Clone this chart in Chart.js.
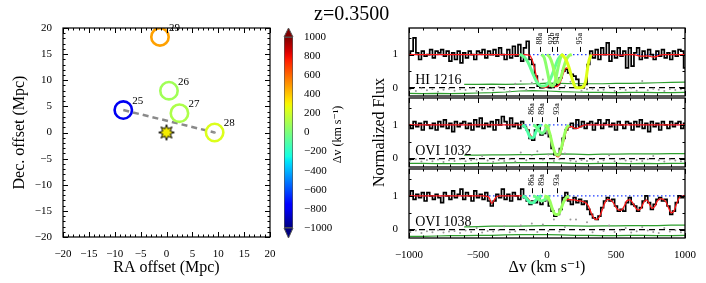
<!DOCTYPE html>
<html>
<head>
<meta charset="utf-8">
<script src="https://cdn.jsdelivr.net/npm/chart.js@4.4.1/dist/chart.umd.min.js"></script>
<style>
  html, body { margin: 0; padding: 0; background: #fff; }
  #wrap { position: relative; width: 706px; height: 283px; overflow: hidden; }
  #wrap canvas { position: absolute; left: 0; top: 0; }
  #ztitle { position: absolute; left: 314px; top: 3px; font: 20px "Liberation Serif", serif; line-height: 20px; color: #000; }
</style>
</head>
<body>
<div id="wrap">
  <canvas id="sky" width="706" height="283"></canvas>
  <canvas id="cbar" width="706" height="283"></canvas>
  <canvas id="spec1" width="706" height="283"></canvas>
  <canvas id="spec2" width="706" height="283"></canvas>
  <canvas id="spec3" width="706" height="283"></canvas>
  <div id="ztitle">z=0.3500</div>
</div>
<script>
// ---- galaxy map (Mpc offsets from the sightline) ----
const galIds = ['25', '26', '27', '28', '29'];
const galX = [-8.35, 0.48, 2.5, 9.3, -1.26];
const galY = [4.3, 8.0, 3.7, 0.0, 18.3];
const galDv = [-800, 90, 120, 234, 480];
const qsoX = 0, qsoY = 0;

// ---- colour bar ----
const cbarMin = -1000, cbarMax = 1000, cbarStep = 200;

// ---- spectra: velocity grid (km/s) ----
const vel = [
  -1000,-980,-960,-940,-920,-900,-880,-860,-840,-820,
  -800,-780,-760,-740,-720,-700,-680,-660,-640,-620,
  -600,-580,-560,-540,-520,-500,-480,-460,-440,-420,
  -400,-380,-360,-340,-320,-300,-280,-260,-240,-220,
  -200,-180,-160,-140,-120,-100,-80,-60,-40,-20,
  0,20,40,60,80,100,120,140,160,180,
  200,220,240,260,280,300,320,340,360,380,
  400,420,440,460,480,500,520,540,560,580,
  600,620,640,660,680,700,720,740,760,780,
  800,820,840,860,880,900,920,940,960,980,
  1000];
const residV = [
  -990,-950,-910,-870,-830,-790,-750,-710,-670,-630,
  -590,-550,-510,-470,-430,-390,-350,-310,-270,-230,
  -190,-150,-110,-70,-30,10,50,90,130,170,
  210,250,290,330,370,410,450,490,530,570,
  610,650,690,730,770,810,850,890,930,970];
const errHiV = [-600,-500,-400,-300,-200,-100,0,100,200,300,400,500,600,700,800,900,1000];
const errLoV = [-1000,-900,-800,-700,-600,-500,-400,-300,-200,-100,0,100,200,300,400,500,600,700,800,900,1000];
const specYTicks = [0, 1];

// HI 1216
const hiFlux = [
  1.0,1.1,1.5,1.05,0.85,1.1,0.95,1.0,1.15,0.9,
  1.1,1.05,1.15,0.95,1.1,0.8,1.05,0.85,1.1,0.75,
  1.05,0.9,1.1,1.0,0.85,1.1,1.05,1.15,0.9,1.1,
  1.0,1.15,0.95,1.2,1.0,0.85,1.15,0.9,1.25,0.95,
  1.3,0.8,1.2,1.4,0.85,0.7,0.35,0.05,0.0,0.05,
  0.02,0.0,0.05,0.05,0.1,0.3,0.5,0.55,0.45,0.4,
  0.35,0.25,0.05,0.0,0.1,0.7,1.1,0.9,1.15,0.85,
  1.2,1.0,1.35,0.8,1.1,0.9,1.2,0.95,1.1,0.6,
  1.2,0.65,1.05,1.2,0.85,1.1,0.9,1.15,1.0,0.85,
  1.1,0.95,1.15,0.9,1.05,0.85,1.1,0.95,1.15,1.1,
  0.6];
const hiModel = [
  1,1,1,1,1,1,1,1,1,1,
  1,1,1,1,1,1,1,1,1,1,
  1,1,1,1,1,1,1,1,1,1,
  1,1,1,1,1,1,1,1,1,1,
  1,1,1,0.99,0.95,0.75,0.4,0.12,0.02,0.0,
  0.02,0.1,0.06,0.03,0.06,0.2,0.45,0.6,0.55,0.3,
  0.05,0.0,0.0,0.0,0.15,0.7,0.97,1,1,1,
  1,1,1,1,1,0.99,0.98,0.98,0.99,1,
  1,1,0.99,0.97,0.95,0.95,0.96,0.95,0.93,0.93,
  0.95,0.98,1,1,1,1,1,1,1,1,
  1];
const hiResid = [
  -0.05,-0.1,-0.02,-0.08,-0.04,-0.12,-0.06,-0.03,-0.09,-0.05,
  -0.07,-0.02,-0.1,-0.06,-0.04,-0.08,0.02,-0.05,-0.11,0.12,
  0.2,-0.06,0.15,0.05,0.25,0.08,0.1,-0.04,0.05,0.18,
  -0.02,-0.09,-0.05,-0.03,-0.08,-0.06,0.05,-0.1,-0.04,-0.07,
  -0.02,-0.09,0.2,-0.08,-0.03,-0.06,-0.1,-0.04,-0.07,-0.05];
const hiErrHi = [0.1,0.1,0.11,0.1,0.11,0.12,0.14,0.13,0.12,0.12,0.12,0.13,0.13,0.14,0.15,0.16,0.17];
const hiErrLo = [-0.17,-0.18,-0.17,-0.18,-0.17,-0.16,-0.15,-0.13,-0.1,-0.09,-0.1,-0.12,-0.13,-0.14,-0.14,-0.15,-0.14,-0.14,-0.15,-0.15,-0.14];
const hiCompNames = ['88a', '92b', '94a', '95a'];
const hiCompDv = [-51, 36, 72, 239];
const hi88aV = [-200,-180,-160,-140,-120,-100,-80,-60,-40,-20,0,20,40,60,80,100,120];
const hi88aF = [1.0,0.97,0.9,0.78,0.6,0.4,0.22,0.1,0.05,0.05,0.1,0.22,0.42,0.65,0.85,0.96,1.0];
const hi92bV = [-40,-20,0,20,40,60,80,100,120];
const hi92bF = [1.0,0.9,0.55,0.15,0.05,0.2,0.6,0.92,1.0];
const hi94aV = [0,20,40,60,80,100,120,140,160,180];
const hi94aF = [1.0,0.92,0.7,0.35,0.15,0.3,0.6,0.85,0.97,1.0];
const hi95aV = [100,120,140,160,180,200,220,240,260,280,300,320];
const hi95aF = [1.0,0.95,0.82,0.6,0.3,0.06,0.0,0.0,0.02,0.2,0.75,1.0];

// OVI 1032
const o32Flux = [
  1.0,0.9,1.1,0.95,1.05,0.85,1.1,1.0,0.9,1.05,
  0.85,1.1,0.95,1.15,0.9,1.05,0.8,1.1,0.95,1.05,
  1.1,0.9,1.05,0.85,1.15,0.95,1.2,0.9,1.05,0.95,
  1.1,0.85,1.15,1.0,1.25,1.1,0.9,1.2,0.95,1.05,
  0.9,1.1,0.95,0.85,0.6,0.55,0.85,1.0,0.7,0.75,
  0.95,0.65,0.3,0.12,0.1,0.3,0.6,0.85,0.95,1.05,
  0.9,1.15,0.95,1.1,0.9,1.05,1.1,0.85,1.05,1.15,
  0.9,1.05,1.15,0.95,1.05,0.85,1.1,1.0,0.9,1.1,
  1.05,0.85,1.1,0.95,1.15,0.9,1.05,0.8,1.1,0.95,
  1.05,0.85,1.1,1.0,0.9,1.1,0.95,1.05,1.1,0.9,
  1.05];
const o32Model = [
  1,1,1,1,1,1,1,1,1,1,
  1,1,1,1,1,1,1,1,1,1,
  1,1,1,1,1,1,1,1,1,1,
  1,1,1,1,1,1,1,1,1,1,
  1,1,0.97,0.88,0.7,0.62,0.78,0.86,0.75,0.78,
  0.86,0.7,0.38,0.12,0.05,0.18,0.5,0.82,0.94,0.95,
  0.9,0.9,0.94,0.98,1,1,1,1,1,1,
  1,1,1,1,1,1,1,1,1,1,
  1,1,1,1,1,1,1,1,1,1,
  1,1,1,1,1,1,1,1,1,1,
  1];
const o32Resid = [
  -0.06,-0.02,-0.09,-0.04,-0.08,-0.03,-0.1,-0.05,-0.07,-0.02,
  -0.08,-0.05,-0.03,0.08,-0.06,-0.1,-0.04,-0.07,-0.02,-0.09,
  0.18,-0.05,0.1,0.22,-0.03,0.12,-0.07,-0.02,0.15,-0.06,
  -0.09,-0.04,-0.07,-0.03,-0.1,-0.05,0.1,-0.08,-0.02,-0.06,
  -0.09,-0.04,-0.07,-0.02,0.08,-0.05,-0.09,-0.03,-0.06,-0.08];
const o32ErrHi = [0.1,0.1,0.11,0.11,0.12,0.12,0.13,0.14,0.13,0.12,0.13,0.13,0.14,0.14,0.14,0.15,0.15];
const o32ErrLo = [-0.14,-0.14,-0.15,-0.15,-0.15,-0.14,-0.14,-0.13,-0.12,-0.12,-0.12,-0.13,-0.14,-0.15,-0.14,-0.14,-0.15,-0.14,-0.15,-0.14,-0.14];

// OVI 1038
const o38Flux = [
  1.0,1.15,0.9,1.05,0.95,1.1,0.85,1.1,1.0,0.9,
  1.05,0.95,0.8,1.1,1.0,0.9,1.15,0.95,1.05,1.2,
  0.9,1.1,1.0,0.85,1.15,0.95,1.05,0.9,1.1,0.85,
  0.7,0.85,1.05,0.95,1.2,0.9,1.05,0.85,1.1,1.0,
  0.9,1.2,0.95,0.85,0.75,0.85,0.8,0.9,0.75,0.85,
  0.95,0.7,0.55,0.4,0.45,0.6,0.95,1.1,0.85,0.75,
  0.95,0.8,0.9,0.75,0.85,0.6,0.45,0.35,0.3,0.4,
  0.65,0.85,0.95,0.85,0.9,0.7,0.55,0.6,0.55,0.8,
  0.95,0.75,0.7,0.55,0.65,0.85,1.0,0.8,0.6,0.75,
  0.9,0.95,0.85,0.9,0.7,0.45,0.55,0.8,1.0,0.95,
  1.0];
const o38Model = [
  1,1,1,1,1,1,1,1,1,1,
  1,1,1,1,1,1,1,1,1,1,
  1,1,1,1,1,1,1,1,0.99,0.95,
  0.78,0.9,0.99,1,1,1,1,1,1,1,
  1,1,0.99,0.93,0.84,0.82,0.88,0.9,0.84,0.87,
  0.92,0.84,0.62,0.46,0.46,0.62,0.82,0.88,0.9,0.88,
  0.88,0.86,0.85,0.83,0.8,0.7,0.5,0.34,0.3,0.38,
  0.58,0.8,0.9,0.88,0.8,0.66,0.58,0.58,0.7,0.86,
  0.88,0.8,0.66,0.58,0.62,0.8,0.88,0.78,0.63,0.68,
  0.85,0.92,0.9,0.84,0.66,0.5,0.55,0.78,0.95,0.99,
  1];
const o38Resid = [
  -0.07,-0.03,-0.1,-0.05,-0.08,-0.02,-0.09,-0.06,-0.04,-0.1,
  -0.03,-0.07,0.05,-0.09,-0.04,-0.06,-0.02,0.1,-0.08,-0.05,
  0.12,-0.03,0.18,-0.07,0.15,-0.04,0.3,-0.06,0.08,0.3,
  0.3,-0.02,0.22,-0.08,0.3,-0.04,0.12,-0.07,-0.03,0.05,
  -0.09,-0.05,0.08,-0.03,-0.07,-0.1,0.05,-0.06,-0.02,-0.08];
const o38ErrHi = [0.08,0.09,0.1,0.1,0.1,0.11,0.12,0.12,0.11,0.1,0.11,0.11,0.12,0.12,0.12,0.13,0.13];
const o38ErrLo = [-0.2,-0.2,-0.19,-0.18,-0.18,-0.17,-0.17,-0.16,-0.15,-0.15,-0.15,-0.16,-0.17,-0.17,-0.18,-0.18,-0.17,-0.17,-0.18,-0.18,-0.17];

// OVI components (same for both lines of the doublet)
const oviCompNames = ['86a', '89a', '93a'];
const oviCompDv = [-109, -36, 72];
const ovi86aV = [-180,-160,-140,-120,-100,-80,-60,-40];
const ovi89aV = [-100,-80,-60,-40,-20,0,20];
const ovi93aV = [-20,0,20,40,60,80,100,120,140,160];
const o32c86aF = [1.0,0.95,0.8,0.62,0.62,0.8,0.95,1.0];
const o32c89aF = [1.0,0.95,0.85,0.75,0.8,0.93,1.0];
const o32c93aF = [1.0,0.95,0.75,0.4,0.15,0.1,0.25,0.6,0.9,1.0];
const o38c86aF = [1.0,0.97,0.88,0.8,0.8,0.88,0.97,1.0];
const o38c89aF = [1.0,0.97,0.9,0.85,0.88,0.95,1.0];
const o38c93aF = [1.0,0.97,0.85,0.6,0.45,0.45,0.6,0.82,0.95,1.0];

const SERIF = "'Liberation Serif', 'DejaVu Serif', serif";
Chart.defaults.font.family = SERIF;
Chart.defaults.color = '#000';
Chart.defaults.animation = false;
Chart.defaults.responsive = false;
Chart.defaults.events = [];
Chart.defaults.plugins.legend.display = false;
Chart.defaults.plugins.tooltip.enabled = false;

const minus = v => String(v).replace('-', '\u2212');

function interp(t, xs, ys) {
  for (let i = 1; i < xs.length; i++) {
    if (t <= xs[i]) return ys[i - 1] + (ys[i] - ys[i - 1]) * (t - xs[i - 1]) / (xs[i] - xs[i - 1]);
  }
  return ys[ys.length - 1];
}
// matplotlib-style jet colour map
function jet(t) {
  t = Math.min(1, Math.max(0, t));
  const r = interp(t, [0, 0.35, 0.66, 0.89, 1], [0, 0, 1, 1, 0.5]);
  const g = interp(t, [0, 0.125, 0.375, 0.64, 0.91, 1], [0, 0, 1, 1, 0, 0]);
  const b = interp(t, [0, 0.11, 0.34, 0.65, 1], [0.5, 1, 1, 0, 0]);
  return 'rgb(' + Math.round(r * 255) + ',' + Math.round(g * 255) + ',' + Math.round(b * 255) + ')';
}
const dvColor = dv => jet((dv - cbarMin) / (cbarMax - cbarMin));

function makeStar() {
  const c = document.createElement('canvas');
  c.width = 18; c.height = 18;
  const g = c.getContext('2d');
  g.beginPath();
  for (let i = 0; i < 16; i++) {
    const r = i % 2 ? 4 : 7.8;
    const a = i * Math.PI / 8 - Math.PI / 2;
    const px = 9 + r * Math.cos(a), py = 9 + r * Math.sin(a);
    if (i) g.lineTo(px, py); else g.moveTo(px, py);
  }
  g.closePath();
  g.fillStyle = '#f4ec00';
  g.fill();
  g.strokeStyle = '#000';
  g.lineWidth = 1;
  g.stroke();
  return c;
}

// ---------- left: galaxy map ----------
const skyDecor = {
  id: 'skyDecor',
  afterDatasetsDraw(chart) {
    const {ctx, chartArea: a, scales: {x, y}} = chart;
    ctx.save();
    ctx.strokeStyle = '#000';
    ctx.lineWidth = 1;
    ctx.beginPath();
    for (let v = x.min; v <= x.max; v++) {
      const len = v % 5 === 0 ? 5 : 2.5;
      const px = Math.round(x.getPixelForValue(v)) + 0.5;
      ctx.moveTo(px, a.bottom); ctx.lineTo(px, a.bottom - len);
      ctx.moveTo(px, a.top); ctx.lineTo(px, a.top + len);
    }
    for (let v = y.min; v <= y.max; v++) {
      const len = v % 5 === 0 ? 5 : 2.5;
      const py = Math.round(y.getPixelForValue(v)) + 0.5;
      ctx.moveTo(a.left, py); ctx.lineTo(a.left + len, py);
      ctx.moveTo(a.right, py); ctx.lineTo(a.right - len, py);
    }
    ctx.stroke();
    ctx.lineWidth = 1.2;
    ctx.strokeRect(a.left, a.top, a.right - a.left, a.bottom - a.top);
    ctx.font = '11px ' + SERIF;
    ctx.fillStyle = '#000';
    ctx.textBaseline = 'middle';
    ctx.textAlign = 'left';
    galIds.forEach((id, i) => {
      ctx.fillText(id, x.getPixelForValue(galX[i]) + 9, y.getPixelForValue(galY[i]) - 9);
    });
    ctx.restore();
  }
};

new Chart(document.getElementById('sky'), {
  type: 'scatter',
  data: {
    datasets: [
      {
        type: 'line',
        data: [{x: galX[0], y: galY[0]}, {x: galX[3], y: galY[3]}],
        borderColor: '#8a8a8a',
        borderWidth: 2.5,
        borderDash: [6, 4],
        pointRadius: 0,
        order: 4
      },
      {
        data: galX.map((x, i) => ({x, y: galY[i]})),
        pointRadius: 8.7,
        pointBorderWidth: 2.6,
        pointBorderColor: galDv.map(dvColor),
        pointBackgroundColor: 'rgba(0,0,0,0)',
        order: 3
      },
      {
        data: [{x: galX[3], y: galY[3]}],
        pointRadius: 1.2,
        pointBorderWidth: 0,
        pointBackgroundColor: '#999',
        order: 2
      },
      {
        data: [{x: qsoX, y: qsoY}],
        pointStyle: makeStar(),
        order: 1
      }
    ]
  },
  options: {
    layout: {padding: {left: 0, top: 28, right: 436, bottom: 0}},
    scales: {
      x: {
        type: 'linear', min: -20, max: 20,
        ticks: {stepSize: 5, font: {size: 11}, padding: 3, autoSkip: false, maxRotation: 0, callback: minus},
        grid: {display: false},
        border: {display: false},
        title: {display: true, text: 'RA offset (Mpc)', font: {size: 16}, padding: {top: 0, bottom: 6}},
        afterFit: s => { s.height = 46; }
      },
      y: {
        type: 'linear', min: -20, max: 20,
        ticks: {stepSize: 5, font: {size: 11}, padding: 3, autoSkip: false, callback: minus},
        grid: {display: false},
        border: {display: false},
        title: {display: true, text: 'Dec. offset (Mpc)', font: {size: 16}, padding: {top: 10, bottom: 0}},
        afterFit: s => { s.width = 63; }
      }
    }
  },
  plugins: [skyDecor]
});

// ---------- colour bar ----------
function cbarGradient(chart) {
  const {ctx, chartArea} = chart;
  if (!chartArea) return null;
  const grad = ctx.createLinearGradient(0, chartArea.bottom, 0, chartArea.top);
  for (let i = 0; i <= 40; i++) grad.addColorStop(i / 40, jet(i / 40));
  return grad;
}

const cbarDecor = {
  id: 'cbarDecor',
  afterDatasetsDraw(chart) {
    const {ctx, chartArea: a} = chart;
    const mid = (a.left + a.right) / 2;
    ctx.save();
    ctx.strokeStyle = '#555';
    ctx.lineWidth = 1;
    ctx.beginPath();
    ctx.moveTo(a.left, a.top); ctx.lineTo(mid, a.top - 9); ctx.lineTo(a.right, a.top); ctx.closePath();
    ctx.fillStyle = jet(1); ctx.fill(); ctx.stroke();
    ctx.beginPath();
    ctx.moveTo(a.left, a.bottom); ctx.lineTo(mid, a.bottom + 10); ctx.lineTo(a.right, a.bottom); ctx.closePath();
    ctx.fillStyle = jet(0); ctx.fill(); ctx.stroke();
    ctx.translate(a.right + 45, (a.top + a.bottom) / 2 + 2);
    ctx.rotate(-Math.PI / 2);
    ctx.font = '12px ' + SERIF;
    ctx.fillStyle = '#000';
    ctx.textAlign = 'center';
    ctx.textBaseline = 'middle';
    ctx.fillText('\u0394v (km s\u207B\u00B9)', 0, 0);
    ctx.restore();
  }
};

new Chart(document.getElementById('cbar'), {
  type: 'bar',
  data: {
    labels: [''],
    datasets: [{
      data: [[cbarMin, cbarMax]],
      backgroundColor: c => cbarGradient(c.chart),
      borderColor: '#555',
      borderWidth: 1,
      borderSkipped: false,
      barPercentage: 1,
      categoryPercentage: 1
    }]
  },
  options: {
    layout: {padding: {left: 284, right: 353, top: 37, bottom: 55}},
    scales: {
      x: {display: false},
      y: {
        position: 'right', min: cbarMin, max: cbarMax,
        ticks: {stepSize: cbarStep, font: {size: 11}, padding: 3, autoSkip: false, callback: minus},
        grid: {display: false},
        border: {display: false},
        afterFit: s => { s.width = 60; }
      }
    }
  },
  plugins: [cbarDecor]
});

// ---------- right: spectra ----------
const pts = (vs, fs) => vs.map((v, i) => ({x: v, y: fs[i]}));

function specDecor(p) {
  return {
    id: 'specDecor',
    afterDatasetsDraw(chart) {
      const {ctx, chartArea: a, scales: {x, y}} = chart;
      ctx.save();
      ctx.strokeStyle = '#000';
      ctx.lineWidth = 1;
      ctx.beginPath();
      for (let v = x.min; v <= x.max; v += 100) {
        const len = v % 500 === 0 ? 5 : 2.5;
        const px = Math.round(x.getPixelForValue(v)) + 0.5;
        ctx.moveTo(px, a.bottom); ctx.lineTo(px, a.bottom - len);
        ctx.moveTo(px, a.top); ctx.lineTo(px, a.top + len);
      }
      [0, 0.5, 1, 1.5].forEach(v => {
        const len = v % 1 === 0 ? 5 : 2.5;
        const py = Math.round(y.getPixelForValue(v)) + 0.5;
        ctx.moveTo(a.left, py); ctx.lineTo(a.left + len, py);
        ctx.moveTo(a.right, py); ctx.lineTo(a.right - len, py);
      });
      // component markers
      p.names.forEach((n, i) => {
        const px = Math.round(x.getPixelForValue(p.dv[i])) + 0.5;
        ctx.moveTo(px, y.getPixelForValue(1.08));
        ctx.lineTo(px, y.getPixelForValue(1.23));
      });
      ctx.stroke();
      ctx.lineWidth = 1.3;
      ctx.strokeRect(a.left, a.top, a.right - a.left, a.bottom - a.top);
      ctx.fillStyle = '#000';
      ctx.font = '8px ' + SERIF;
      ctx.textAlign = 'left';
      ctx.textBaseline = 'middle';
      p.names.forEach((n, i) => {
        ctx.save();
        ctx.translate(x.getPixelForValue(p.dv[i]), y.getPixelForValue(1.3));
        ctx.rotate(-Math.PI / 2);
        ctx.fillText(n, 0, 0);
        ctx.restore();
      });
      ctx.font = '14px ' + SERIF;
      ctx.textBaseline = 'alphabetic';
      ctx.fillText(p.label, x.getPixelForValue(-955), y.getPixelForValue(0.1));
      ctx.restore();
    }
  };
}

function specChart(id, p) {
  const datasets = [
    {data: [{x: -1000, y: 1}, {x: 1000, y: 1}], borderColor: '#1f3cff', borderWidth: 1.2, borderDash: [1.5, 2.5], order: 20},
    {data: [{x: -1000, y: 0}, {x: 1000, y: 0}], borderColor: '#000', borderWidth: 1.2, borderDash: [6, 4], order: 19},
    {data: pts(errHiV, p.errHi), borderColor: '#2e9e2e', borderWidth: 1.2, order: 18},
    {data: pts(errLoV, p.errLo), borderColor: '#2e9e2e', borderWidth: 1.2, order: 17},
    {data: pts(residV, p.resid), showLine: false, pointRadius: 1, pointBorderWidth: 0, pointBackgroundColor: '#9a9a9a', order: 16},
    {data: pts(vel, p.flux), borderColor: '#000', borderWidth: 1.7, stepped: 'middle', order: 10},
    {data: pts(vel, p.model), borderColor: '#ff1a1a', borderWidth: 1.3, cubicInterpolationMode: 'monotone', order: 9}
  ];
  p.comps.forEach((c, i) => {
    datasets.push({data: pts(c.v, c.f), borderColor: dvColor(p.dv[i]), borderWidth: 3,
      cubicInterpolationMode: 'monotone', order: 5 - i});
  });
  return new Chart(document.getElementById(id), {
    type: 'line',
    data: {datasets},
    options: {
      layout: {padding: {left: 360, right: 21, top: p.top, bottom: p.bottom}},
      elements: {point: {radius: 0}, line: {tension: 0}},
      scales: {
        x: {
          type: 'linear', min: -1000, max: 1000, display: p.showX,
          ticks: {stepSize: 500, font: {size: 11}, padding: 3, maxRotation: 0, autoSkip: false, callback: minus},
          grid: {display: false},
          border: {display: false},
          title: {display: true, text: '\u0394v (km s\u207B\u00B9)', font: {size: 16}, padding: {top: 0, bottom: 6}},
          afterFit: s => { s.height = p.showX ? 45 : 0; }
        },
        y: {
          type: 'linear', min: -0.25, max: 1.8,
          afterBuildTicks: s => { s.ticks = specYTicks.map(value => ({value})); },
          ticks: {font: {size: 11}, padding: 3},
          grid: {display: false},
          border: {display: false},
          title: {display: !!p.yTitle, text: p.yTitle || '', font: {size: 16}, padding: {top: 10, bottom: 0}},
          afterFit: s => { s.width = 49; }
        }
      }
    },
    plugins: [specDecor(p)]
  });
}

specChart('spec1', {
  label: 'HI 1216', top: 28, bottom: 187, showX: false,
  flux: hiFlux, model: hiModel, resid: hiResid, errHi: hiErrHi, errLo: hiErrLo,
  names: hiCompNames, dv: hiCompDv,
  comps: [{v: hi88aV, f: hi88aF}, {v: hi92bV, f: hi92bF}, {v: hi94aV, f: hi94aF}, {v: hi95aV, f: hi95aF}]
});
specChart('spec2', {
  label: 'OVI 1032', top: 98, bottom: 116, showX: false, yTitle: 'Normalized Flux',
  flux: o32Flux, model: o32Model, resid: o32Resid, errHi: o32ErrHi, errLo: o32ErrLo,
  names: oviCompNames, dv: oviCompDv,
  comps: [{v: ovi86aV, f: o32c86aF}, {v: ovi89aV, f: o32c89aF}, {v: ovi93aV, f: o32c93aF}]
});
specChart('spec3', {
  label: 'OVI 1038', top: 169, bottom: 0, showX: true,
  flux: o38Flux, model: o38Model, resid: o38Resid, errHi: o38ErrHi, errLo: o38ErrLo,
  names: oviCompNames, dv: oviCompDv,
  comps: [{v: ovi86aV, f: o38c86aF}, {v: ovi89aV, f: o38c89aF}, {v: ovi93aV, f: o38c93aF}]
});
</script>
</body>
</html>
